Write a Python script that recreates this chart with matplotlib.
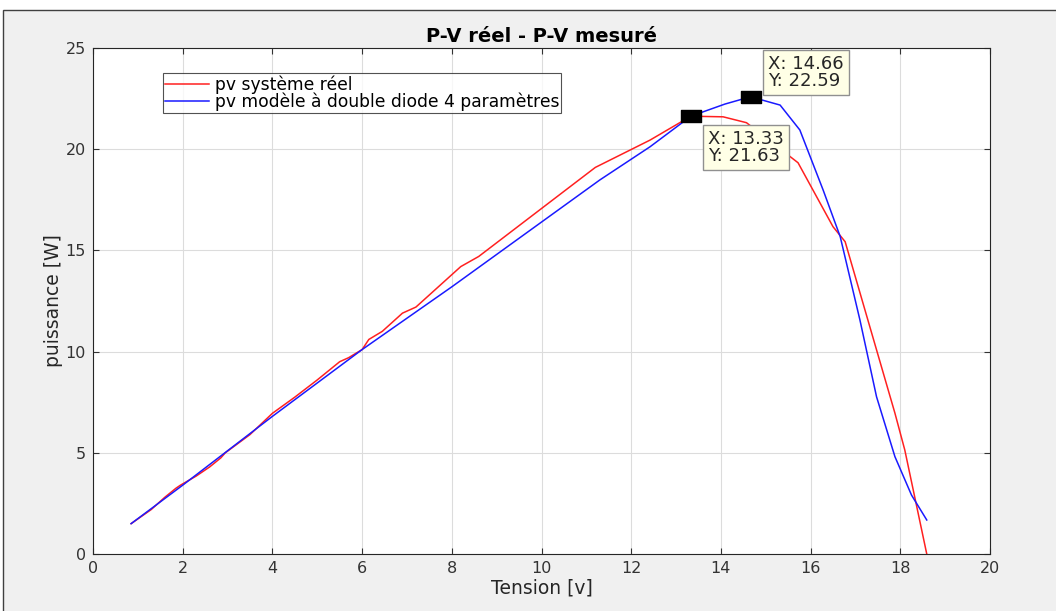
import numpy as np
import matplotlib.pyplot as plt
from matplotlib.patches import Rectangle

plt.rcParams['font.family'] = ['DejaVu Sans']

# measured P-V curve (real system)
v_reel = [0.85, 1.3, 1.6, 1.85, 1.95, 2.3, 2.6, 2.85, 2.95, 3.5, 4.0, 4.5, 5.0, 5.5,
          5.7, 6.0, 6.15, 6.45, 6.9, 7.2, 7.8, 8.2, 8.6, 11.2, 12.42, 13.33,
          14.05, 14.57, 15.72, 16.5, 16.77, 17.88, 18.1, 18.59]
p_reel = [1.5, 2.2, 2.8, 3.25, 3.4, 3.85, 4.3, 4.75, 5.0, 5.9, 6.95, 7.75, 8.6, 9.5,
          9.7, 10.1, 10.6, 11.0, 11.9, 12.2, 13.4, 14.2, 14.7, 19.1, 20.45, 21.63,
          21.6, 21.31, 19.33, 16.17, 15.43, 6.96, 5.14, 0.0]

# double diode model, 4 parameters
v_mod = [0.85, 2.0, 4.0, 6.0, 8.0, 10.0, 11.3, 12.42, 13.33, 14.09, 14.66,
         15.32, 15.76, 16.28, 16.66, 17.1, 17.47, 17.88, 18.25, 18.59]
p_mod = [1.5, 3.4, 6.8, 10.1, 13.2, 16.4, 18.48, 20.12, 21.63, 22.23, 22.59,
         22.18, 20.95, 17.98, 15.68, 11.56, 7.77, 4.81, 2.91, 1.68]

# data tips: value, then upper-left corner of the label
tip_x = [13.33, 14.66]
tip_y = [21.63, 22.59]
tip_lx = [13.72, 15.06]
tip_ly = [20.93, 24.63]

fig = plt.figure(figsize=(10.56, 6.11), dpi=100, facecolor='white')
fig.patches.append(Rectangle((3 / 1056, -0.01), 1.0, 1 - 10 / 611 + 0.01,
                             transform=fig.transFigure, facecolor='#f0f0f0',
                             edgecolor='#404040', linewidth=1.0, zorder=-10))

ax = fig.add_axes([93 / 1056, 57 / 611, (990 - 93) / 1056, (554 - 48) / 611])
ax.set_facecolor('white')

ax.plot(v_reel, p_reel, color='#ff2020', linewidth=1.1, label='pv système réel')
ax.plot(v_mod, p_mod, color='#1a1aff', linewidth=1.1,
        label='pv modèle à double diode 4 paramètres')

ax.set_xlim(0, 20)
ax.set_ylim(0, 25)
ax.set_xticks(np.arange(0, 21, 2))
ax.set_yticks(np.arange(0, 26, 5))
ax.grid(True, color='#dcdcdc', linewidth=0.8)
ax.set_axisbelow(True)
ax.tick_params(direction='in', top=True, right=True, labelsize=11.5,
               colors='#333333', length=4, pad=5)
for s in ax.spines.values():
    s.set_color('#262626')
    s.set_linewidth(0.8)

ax.set_title('P-V réel - P-V mesuré', fontsize=14, fontweight='bold', pad=4)
ax.set_xlabel('Tension [v]', fontsize=13.5, color='#262626', labelpad=2)
ax.set_ylabel('puissance [W]', fontsize=13.5, color='#262626', labelpad=2)

leg = ax.legend(loc='upper left', bbox_to_anchor=(0.078, 0.9506), fontsize=12.3,
                frameon=True, fancybox=False, borderpad=0.12, labelspacing=-0.08,
                handlelength=2.6, handletextpad=0.3, borderaxespad=0)
leg.get_frame().set_edgecolor('#262626')
leg.get_frame().set_linewidth(0.8)

# wide black rectangle marker like a MATLAB data cursor
cursor = [(-1.5, -1), (1.5, -1), (1.5, 1), (-1.5, 1), (-1.5, -1)]
for x, y, lx, ly in zip(tip_x, tip_y, tip_lx, tip_ly):
    ax.plot(x, y, marker=cursor, markersize=14, color='black',
            markeredgecolor='black', linestyle='none', zorder=5)
    ax.text(lx, ly, f'X: {x:.2f}\nY: {y:.2f}', fontsize=13, va='top', ha='left',
            linespacing=0.92, color='#262626', zorder=6,
            bbox=dict(boxstyle='square,pad=0.28', facecolor='#ffffe6',
                      edgecolor='#909090', linewidth=1.0))

fig.savefig('out.png', dpi=100)
